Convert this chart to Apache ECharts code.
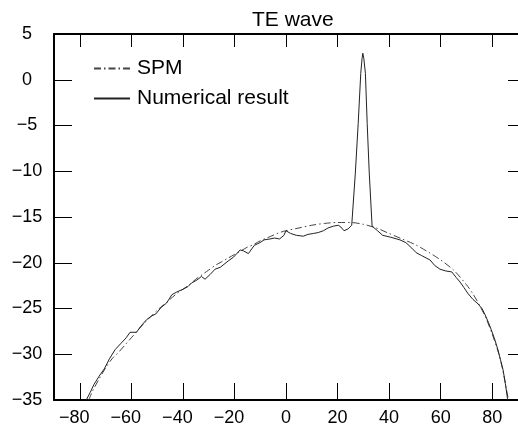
<!DOCTYPE html>
<html>
<head>
<meta charset="utf-8">
<script src="https://cdn.jsdelivr.net/npm/echarts@6/dist/echarts.min.js"></script>
<style>
html,body{margin:0;padding:0;background:#fff;}
#c{width:518px;height:427px;}
</style>
</head>
<body>
<div id="c"></div>
<script>
// Tick values
const xTicks = [-80, -60, -40, -20, 0, 20, 40, 60, 80];
const yTicks = [-35, -30, -25, -20, -15, -10, -5, 0, 5];

// SPM (dash-dot) curve
const spmX = [-76.5,-75,-72.5,-70,-67.5,-65,-62.5,-60,-57.5,-55,-52.5,-50,-47.5,-45,-42.5,-40,-37.5,-35,-32.5,-30,-27.5,-25,-22.5,-20,-17.5,-15,-12.5,-10,-7.5,-5,-2.5,0,5,10,15,20,25,30,35,40,45,50,55,60,65,70,72.5,75,77.5,80,82.5,84,85.5,86.3];
const spmY = [-35.0,-34.0,-32.7,-31.5,-30.5,-29.8,-29.0,-28.2,-27.4,-26.6,-25.9,-25.2,-24.6,-24.0,-23.4,-22.9,-22.4,-21.8,-21.3,-20.8,-20.3,-19.9,-19.5,-19.1,-18.7,-18.3,-18.0,-17.6,-17.3,-17.0,-16.7,-16.5,-16.2,-15.9,-15.7,-15.6,-15.6,-15.8,-16.2,-16.8,-17.4,-18.0,-18.8,-19.7,-20.8,-22.4,-23.4,-24.6,-26.0,-27.8,-29.9,-31.6,-33.8,-35.0];

// Numerical result (solid) curve
const numX = [-77.5,-76,-74.5,-72.5,-70.5,-68.5,-66.3,-64,-62,-60.5,-58,-56.5,-54,-52,-50.5,-48.5,-46.3,-44.3,-42.4,-40,-38,-36.6,-34.6,-32.8,-31.4,-29.5,-27.5,-25.5,-22.4,-20.4,-17.8,-16.5,-14.6,-12.3,-10.1,-8.5,-6.2,-4.5,-2.5,-0.8,0.0,1.8,4,6.7,8.5,10.6,12.5,14.5,16.3,18.4,20.3,21.3,22.5,24.1,25.5,25.9,26.9,28.0,29.0,29.5,29.8,30.2,30.8,31.5,32.3,33.4,33.9,35.5,37.5,40.5,44.2,46.5,48.8,50.5,52.5,55.9,57.7,59.7,62,64.3,66,67.5,69,70.7,72.5,74.5,76,77.1,78.5,79.6,81,82.2,83.2,84.2,85.1,85.9,86.0];
const numY = [-35.0,-34.2,-33.3,-32.4,-31.6,-30.5,-29.5,-28.8,-28.2,-27.6,-27.6,-27.0,-26.2,-25.8,-25.6,-24.9,-24.4,-23.5,-23.2,-22.9,-22.6,-22.2,-21.9,-21.5,-21.8,-21.3,-20.7,-20.5,-19.8,-19.4,-18.6,-18.7,-19.0,-18.1,-17.8,-17.5,-17.4,-17.3,-17.4,-17.0,-16.5,-16.8,-17.0,-17.1,-16.9,-16.8,-16.7,-16.5,-16.2,-16.0,-15.9,-16.1,-16.5,-16.3,-15.9,-15.7,-10.2,-4.8,0.7,2.3,2.9,2.3,0.7,-4.8,-10.2,-16.0,-16.2,-16.5,-17.0,-17.2,-17.5,-17.8,-18.4,-18.9,-19.2,-19.7,-20.3,-20.7,-20.9,-21.0,-21.6,-22.1,-22.7,-23.4,-24.0,-24.5,-25.0,-25.6,-26.5,-27.3,-28.4,-29.5,-30.6,-31.7,-33.2,-34.8,-35.0];

const FONT = 'Liberation Sans, Arial, Helvetica, sans-serif';
const pair = (xs, ys) => xs.map((x, i) => [x, ys[i]]);
const minusFmt = v => v < 0 ? '\u2212' + Math.abs(v) : String(v);

const chart = echarts.init(document.getElementById('c'), null, {renderer: 'canvas'});
chart.setOption({
  animation: false,
  backgroundColor: '#fff',
  title: {
    text: 'TE wave',
    left: 247, top: 5,
    textStyle: {fontFamily: FONT, fontSize: 21, fontWeight: 'normal', color: '#000'}
  },
  legend: {
    orient: 'vertical',
    left: 88, top: 53,
    itemWidth: 36, itemHeight: 10, itemGap: 9,
    data: ['SPM', 'Numerical result'],
    itemStyle: {opacity: 0},
    textStyle: {fontFamily: FONT, fontSize: 21, color: '#000', padding: [0, 0, 0, 2]}
  },
  grid: {left: 54, right: 0, top: 34, bottom: 27},
  xAxis: [{
    type: 'value', min: -90, max: 90, position: 'bottom',
    axisLine: {show: true, onZero: false, lineStyle: {color: '#000', width: 2}},
    axisTick: {show: true, inside: true, length: 17, customValues: xTicks, lineStyle: {color: '#000', width: 1}},
    axisLabel: {
      show: true, customValues: xTicks, margin: 9,
      fontFamily: FONT, fontSize: 18, color: '#000',
      formatter: v => v < 0 ? '\u2212' + Math.abs(v) + '{p| }' : String(v),
      rich: {p: {width: 11, fontSize: 18}}
    },
    splitLine: {show: false}
  }, {
    type: 'value', min: -90, max: 90, position: 'top',
    axisLine: {show: true, onZero: false, lineStyle: {color: '#000', width: 2}},
    axisTick: {show: true, inside: true, length: 13, customValues: xTicks, lineStyle: {color: '#000', width: 1}},
    axisLabel: {show: false},
    splitLine: {show: false}
  }],
  yAxis: [{
    type: 'value', min: -35, max: 5, interval: 5, position: 'left',
    axisLine: {show: true, onZero: false, lineStyle: {color: '#000', width: 2}},
    axisTick: {show: true, inside: true, length: 18, lineStyle: {color: '#000', width: 1}},
    axisLabel: {show: true, margin: 27, align: 'center', fontFamily: FONT, fontSize: 18, color: '#000', formatter: minusFmt},
    splitLine: {show: false}
  }, {
    type: 'value', min: -35, max: 5, interval: 5, position: 'right',
    axisLine: {show: false, onZero: false},
    axisTick: {show: true, inside: true, length: 10, lineStyle: {color: '#000', width: 1}},
    axisLabel: {show: false},
    splitLine: {show: false}
  }],
  series: [{
    name: 'SPM', type: 'line', xAxisIndex: 0, yAxisIndex: 0,
    data: pair(spmX, spmY),
    symbol: 'none', showSymbol: false, smooth: 0.3,
    lineStyle: {color: '#444', width: 1, type: [7, 3, 1.5, 3]},
    itemStyle: {color: '#444'}
  }, {
    name: 'Numerical result', type: 'line', xAxisIndex: 0, yAxisIndex: 0,
    data: pair(numX, numY),
    symbol: 'none', showSymbol: false,
    lineStyle: {color: '#222', width: 1},
    itemStyle: {color: '#222'}
  }]
});
</script>
</body>
</html>
